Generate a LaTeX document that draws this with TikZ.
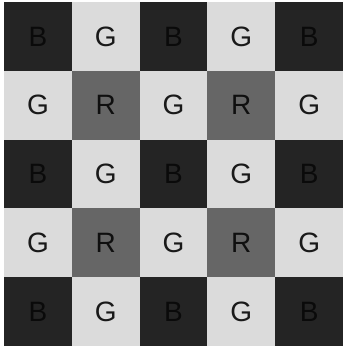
\documentclass[tikz,border=0pt]{standalone}
\usepackage{fontspec}
\setmainfont{Liberation Sans}
\definecolor{bdark}{gray}{0.14}
\definecolor{btext}{gray}{0.04}
\definecolor{glight}{gray}{0.86}
\definecolor{rmid}{gray}{0.40}
\definecolor{rtext}{gray}{0.06}
\tikzset{
  cell/.style={anchor=north west, minimum width=67.9pt, minimum height=68.9pt, inner sep=0pt, outer sep=0pt,
    font=\fontsize{28}{28}\selectfont},
  bcell/.style={cell, fill=bdark, text=btext},
  gcell/.style={cell, fill=glight, text=black!90},
  rcell/.style={cell, fill=rmid, text=rtext},
}
\begin{document}
\begin{tikzpicture}[x=1pt,y=1pt]
\useasboundingbox (0,0) rectangle (345,350);
\fill[white] (0,0) rectangle (345,350);
\foreach \r in {0,...,4}{
  \foreach \c in {0,...,4}{
    \pgfmathtruncatemacro{\ro}{mod(\r,2)}
    \pgfmathtruncatemacro{\co}{mod(\c,2)}
    \pgfmathsetmacro{\xx}{4+67.8*\c}
    \pgfmathsetmacro{\yy}{348-68.8*\r}
    \ifnum\ro=0
      \ifnum\co=0
        \node[bcell] (c-\r-\c) at (\xx,\yy) {B};
      \else
        \node[gcell] (c-\r-\c) at (\xx,\yy) {G};
      \fi
    \else
      \ifnum\co=0
        \node[gcell] (c-\r-\c) at (\xx,\yy) {G};
      \else
        \node[rcell] (c-\r-\c) at (\xx,\yy) {R};
      \fi
    \fi
  }
}
\end{tikzpicture}
\end{document}
